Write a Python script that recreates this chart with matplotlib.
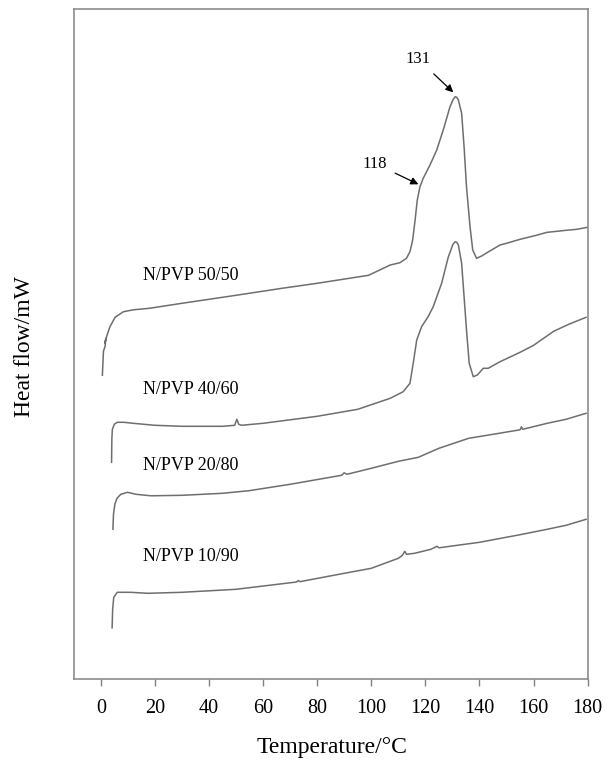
import matplotlib
matplotlib.use("Agg")
import matplotlib.pyplot as plt

plt.rcParams['font.family'] = ['Liberation Serif', 'DejaVu Serif']

# ---- data (heat flow in arbitrary offset units) ----
t_5050 = [0.6, 1.0, 1.6, 1.9, 1.5, 2.2, 3.4, 5.3, 8.3, 12, 18, 30, 50, 67, 80, 99, 107, 110.6,
          113, 114.3, 115.3, 116.2, 117, 118, 119.2, 121.7, 124.2, 126.6, 129.1, 130.3, 131,
          131.6, 132.2, 133.4, 134.3, 135.2, 136.5, 137.5, 138.9, 140.8, 143, 147.6, 150,
          155, 161, 165, 168.7, 172, 176, 180]
hf_5050 = [304, 328, 333, 341, 336, 343, 352.6, 362, 367.5, 369.5, 371, 376, 384, 391, 396, 404,
           414.3, 416.6, 421, 427.6, 439.3, 459.3, 479.3, 492.6, 501, 514.3, 529.3, 549.3,
           572.6, 580, 582.6, 582, 579.3, 566, 532.6, 492.6, 452.6, 429.3, 421, 423.3, 427,
           434.3, 436, 440, 444, 447, 448, 449, 450, 452]

t_4060 = [4.0, 4.1, 4.3, 5.0, 6.1, 8.6, 12, 20, 30, 45, 49.5, 50.3, 51, 52, 60, 80, 95, 107,
          111.8, 114.3, 115.5, 116.8, 118.6, 121, 122.9, 126, 128.5, 130.2, 131, 131.6, 132.2,
          133.4, 134.3, 135.2, 136.2, 137.7, 139.2, 141.4, 143.2, 147.6, 155, 160, 167.4,
          173, 179.4]
hf_4060 = [217, 240, 250, 255, 257, 257, 256, 254, 253, 253, 254, 260, 255, 254, 256, 263, 270,
           281, 287.6, 296, 316, 339.3, 352.6, 362.6, 372.6, 396, 422.6, 435, 437.6, 437,
           434.3, 416, 382.6, 349.3, 316, 302.6, 304.3, 311, 311, 317.6, 327, 334, 348,
           355, 362]

t_2080 = [4.5, 4.7, 5.2, 6.0, 7.4, 9.9, 13, 18.6, 30, 45, 54.8, 70, 89, 90, 91, 100, 110,
          117.4, 125, 136, 145, 155, 155.5, 156, 165, 172, 179.4]
hf_2080 = [150, 165, 175, 181, 185, 187, 185, 183.5, 184, 186, 188.6, 195, 204, 206.5, 205, 211,
           218, 222, 231, 241, 245, 249.5, 252.5, 250, 256, 260, 266]

t_1090 = [4.2, 4.4, 4.8, 6.1, 11, 17.4, 30, 50, 72.4, 73, 73.6, 90, 100, 110, 111.5, 112.4,
          113, 116, 122, 124.3, 125, 140, 155, 165, 172, 179.4]
hf_1090 = [51.5, 70, 82, 87, 87, 86, 87, 90, 97.3, 98.8, 97.6, 106, 111, 121, 124, 128,
           125, 126, 130, 133, 131.5, 137, 144.6, 150, 154, 160]

series_labels = ["N/PVP 50/50", "N/PVP 40/60", "N/PVP 20/80", "N/PVP 10/90"]
label_levels = [403.5, 290, 214, 122.6]
x_ticks = [0, 20, 40, 60, 80, 100, 120, 140, 160, 180]
peak_labels = ["131", "118"]
peak_temps = [131, 118]
peak_hf = [587, 495]

# ---- figure ----
fig = plt.figure(figsize=(6.15, 7.6), dpi=100)
ax = fig.add_axes([73.7 / 615, 1 - 679.3 / 760, (587.7 - 73.7) / 615, (679.3 - 9.3) / 760])

line_kw = dict(color='#6e6e6e', lw=1.1, solid_joinstyle='round')
for t, hf in [(t_5050, hf_5050), (t_4060, hf_4060), (t_2080, hf_2080), (t_1090, hf_1090)]:
    ax.plot(t, hf, **line_kw)

for lab, lev in zip(series_labels, label_levels):
    ax.text(15.5, lev, lab, fontsize=13, ha='left', va='center', color='black')

# peak annotations
ax.annotate(peak_labels[0], xy=(peak_temps[0] - 0.7, peak_hf[0]), xytext=(117.4, 620),
            fontsize=12, ha='center', va='center',
            arrowprops=dict(arrowstyle='-|>', color='black', lw=0.9,
                            shrinkA=4, shrinkB=0, mutation_scale=11))
ax.annotate(peak_labels[1], xy=(peak_temps[1] - 0.6, peak_hf[1]), xytext=(101.4, 515.8),
            fontsize=12, ha='center', va='center',
            arrowprops=dict(arrowstyle='-|>', color='black', lw=0.9,
                            shrinkA=4, shrinkB=0, mutation_scale=11))

ax.set_xlim(-10, 180)
ax.set_ylim(0, 670)
ax.set_xticks(x_ticks)
ax.set_xticklabels([str(v) for v in x_ticks], fontsize=14.5)
ax.set_yticks([])
ax.tick_params(axis='x', direction='out', length=5, width=1, color='#808080', pad=9)
for s in ax.spines.values():
    s.set_color('#8c8c8c')
    s.set_linewidth(1.2)

fig.text(332 / 615, 1 - 748 / 760, "Temperature/°C", fontsize=17, ha='center', va='center')
fig.text(25 / 615, 1 - 346.7 / 760, "Heat flow/mW", fontsize=17, ha='center', va='center',
         rotation=90)

fig.savefig("out.png", dpi=100)
